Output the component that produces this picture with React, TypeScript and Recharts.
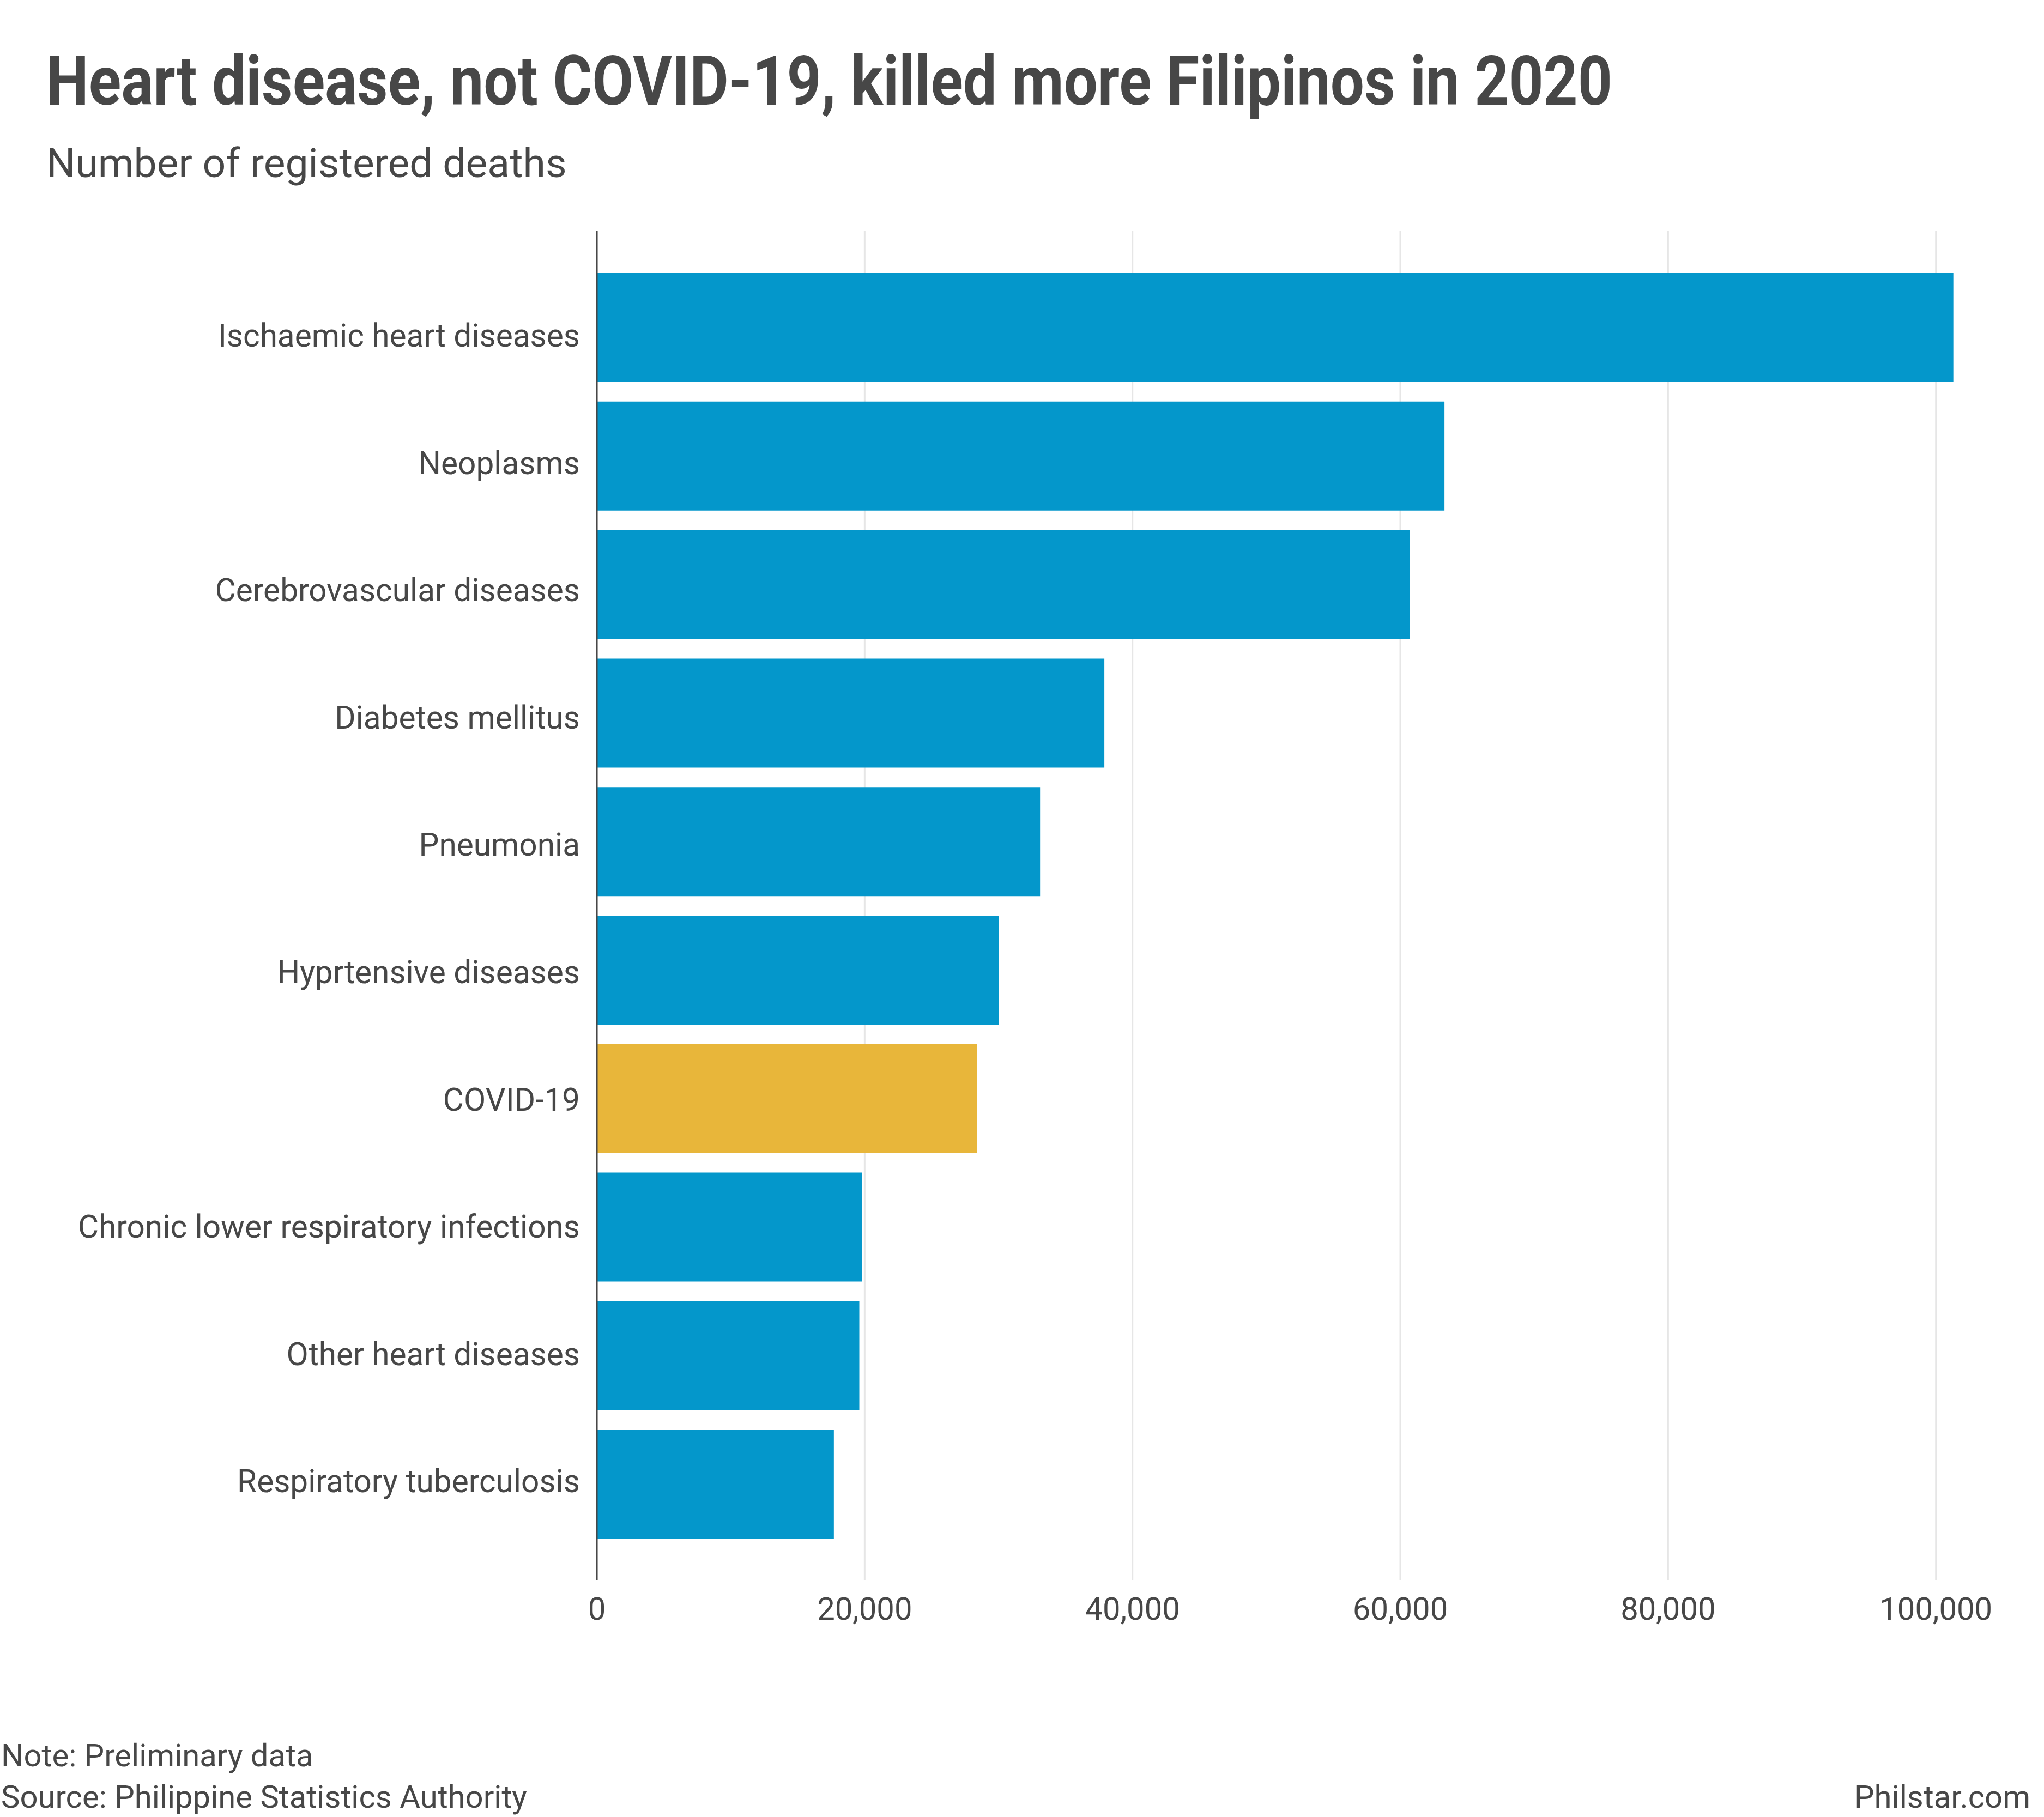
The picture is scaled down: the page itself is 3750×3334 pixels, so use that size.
import React from "react";
import { BarChart, Bar, XAxis, YAxis, CartesianGrid, Cell } from "recharts";

const causes = [
  "Ischaemic heart diseases",
  "Neoplasms",
  "Cerebrovascular diseases",
  "Diabetes mellitus",
  "Pneumonia",
  "Hyprtensive diseases",
  "COVID-19",
  "Chronic lower respiratory infections",
  "Other heart diseases",
  "Respiratory tuberculosis",
];

const deaths = [101300, 63300, 60700, 37900, 33100, 30000, 28400, 19800, 19600, 17700];

const xTicks = [0, 20000, 40000, 60000, 80000, 100000];

const highlighted = "COVID-19";

const data = causes.map((name, i) => ({ name, deaths: deaths[i] }));

const TEXT = "#474747";
const BLUE = "#0497cb";
const YELLOW = "#e8b63a";
const FONT = "Roboto, 'Noto Sans', sans-serif";

// labels in the original sit a bit low at the top and drift upward toward the bottom
const CauseTick = (props: any) => {
  const { x, y, payload, index } = props;
  return (
    <text
      x={x}
      y={y}
      dy={35 - 2.2 * (index ?? 0)}
      textAnchor="end"
      fontSize={58.5}
      fill={TEXT}
      fontFamily={FONT}
    >
      {payload.value}
    </text>
  );
};

const App = () => {
  return (
    <div
      style={{
        position: "absolute",
        left: 0,
        top: 0,
        width: 3750,
        height: 3334,
        background: "#fff",
        fontFamily: FONT,
      }}
    >
      <BarChart
        width={3750}
        height={3050}
        data={data}
        layout="vertical"
        margin={{ top: 424, right: 100, bottom: 0, left: 0 }}
        style={{ position: "absolute", left: 0, top: 0 }}
      >
        <CartesianGrid
          horizontal={false}
          stroke="#e6e6e6"
          strokeWidth={3}
          syncWithTicks
        />
        <XAxis
          type="number"
          domain={[0, 104000]}
          ticks={xTicks}
          axisLine={false}
          tickLine={false}
          tickSize={0}
          tickMargin={31}
          height={150}
          tickFormatter={(v: number) => v.toLocaleString("en-US")}
          tick={{ fill: TEXT, fontSize: 58, fontFamily: FONT }}
        />
        <YAxis
          type="category"
          dataKey="name"
          width={1095}
          padding={{ top: 59, bottom: 59 }}
          axisLine={{ stroke: TEXT, strokeWidth: 3 }}
          tickLine={false}
          tickSize={0}
          tickMargin={31}
          interval={0}
          tick={<CauseTick />}
        />
        <Bar dataKey="deaths" barSize={200} isAnimationActive={false}>
          {data.map((d) => (
            <Cell key={d.name} fill={d.name === highlighted ? YELLOW : BLUE} />
          ))}
        </Bar>
      </BarChart>

      <svg
        width={3750}
        height={3334}
        style={{ position: "absolute", left: 0, top: 0, pointerEvents: "none" }}
      >
        <text
          x={85}
          y={192}
          fontSize={127}
          fontWeight={700}
          fill={TEXT}
          fontFamily={FONT}
          textLength={2873}
          lengthAdjust="spacingAndGlyphs"
        >
          Heart disease, not COVID-19, killed more Filipinos in 2020
        </text>
        <text x={85} y={325} fontSize={75} fill={TEXT} fontFamily={FONT}>
          Number of registered deaths
        </text>
        <text x={2} y={3241} fontSize={58} fill={TEXT} fontFamily={FONT}>
          Note: Preliminary data
        </text>
        <text x={2} y={3317} fontSize={58} fill={TEXT} fontFamily={FONT}>
          Source: Philippine Statistics Authority
        </text>
        <text
          x={3725}
          y={3317}
          fontSize={58}
          textAnchor="end"
          fill={TEXT}
          fontFamily={FONT}
        >
          Philstar.com
        </text>
      </svg>
    </div>
  );
};

export default App;
